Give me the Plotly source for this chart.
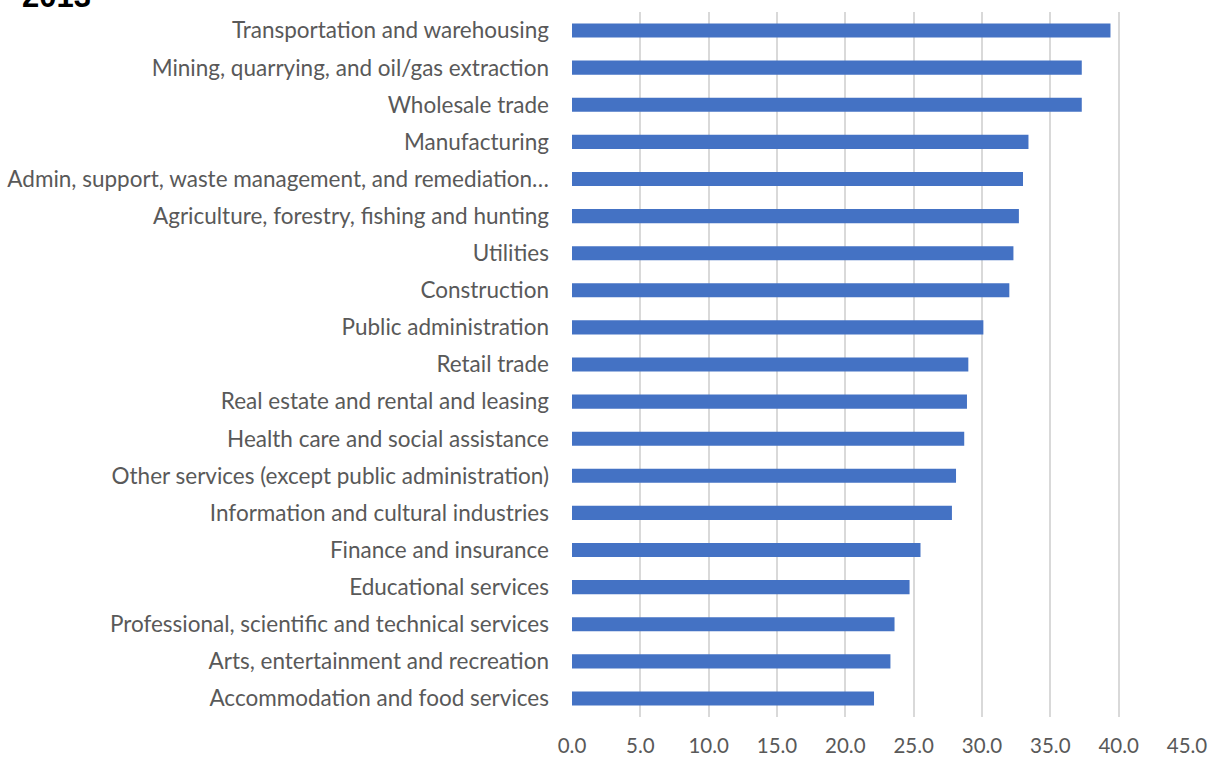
import plotly.graph_objects as go

# Industries, listed bottom-to-top as drawn on the category axis
industries = [
    "Accommodation and food services",
    "Arts, entertainment and recreation",
    "Professional, scientific and technical services",
    "Educational services",
    "Finance and insurance",
    "Information and cultural industries",
    "Other services (except public administration)",
    "Health care and social assistance",
    "Real estate and rental and leasing",
    "Retail trade",
    "Public administration",
    "Construction",
    "Utilities",
    "Agriculture, forestry, fishing and hunting",
    "Admin, support, waste management, and remediation…",
    "Manufacturing",
    "Wholesale trade",
    "Mining, quarrying, and oil/gas extraction",
    "Transportation and warehousing",
]
values = [
    22.1, 23.3, 23.6, 24.7, 25.5, 27.8, 28.1, 28.7, 28.9, 29.0,
    30.1, 32.0, 32.3, 32.7, 33.0, 33.4, 37.3, 37.3, 39.4,
]
x_ticks = [0, 5, 10, 15, 20, 25, 30, 35, 40, 45]
x_tick_labels = ["0.0", "5.0", "10.0", "15.0", "20.0", "25.0", "30.0", "35.0", "40.0", "45.0"]
title_text = "2013"

fig = go.Figure(
    go.Bar(
        y=industries,
        x=values,
        orientation="h",
        marker=dict(color="#4472C4", line=dict(width=0)),
        hoverinfo="x+y",
    )
)

font_family = "Lato, Open Sans, Liberation Sans, sans-serif"

fig.update_layout(
    width=1212,
    height=758,
    margin=dict(l=572, r=25, t=12, b=41, autoexpand=False),
    paper_bgcolor="white",
    plot_bgcolor="white",
    bargap=0.62,
    showlegend=False,
    font=dict(family=font_family, color="#595959"),
    xaxis=dict(
        range=[0, 45],
        tickvals=x_ticks,
        ticktext=x_tick_labels,
        showgrid=True,
        gridcolor="#D9D9D9",
        gridwidth=1.5,
        zeroline=False,
        showline=False,
        ticks="",
        automargin=False,
        ticklabelstandoff=14,
        tickfont=dict(size=20.5, color="#595959"),
    ),
    yaxis=dict(
        showgrid=False,
        zeroline=False,
        showline=False,
        ticks="",
        automargin=False,
        ticklabelstandoff=22,
        tickfont=dict(size=22.5, color="#595959"),
        range=[-0.5, len(industries) - 0.5],
    ),
    annotations=[
        dict(
            text="<b>" + title_text + "</b>",
            xref="paper",
            yref="paper",
            x=-0.897,
            y=1,
            xanchor="left",
            yanchor="bottom",
            yshift=-4,
            showarrow=False,
            font=dict(size=31, color="black", family="Liberation Sans, sans-serif"),
        )
    ],
)

fig.write_html("out.html")
